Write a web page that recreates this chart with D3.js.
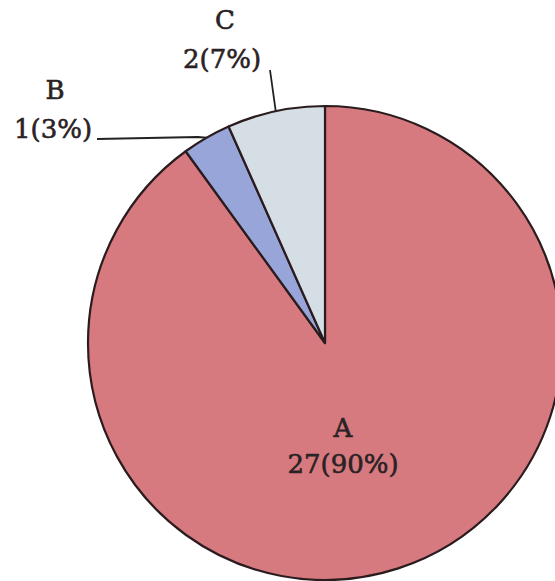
<!DOCTYPE html>
<html><head><meta charset="utf-8">
<script src="https://cdn.jsdelivr.net/npm/d3@7"></script>
<style>html,body{margin:0;padding:0;background:#fff;overflow:hidden}</style>
</head><body>
<svg id="chart" width="555" height="581"></svg>
<script>
const categories = ["A", "B", "C"];
const values = [27, 1, 2];
const percents = ["90%", "3%", "7%"];
const colors = ["#d77a80", "#97a5d8", "#d6dee5"];

const svg = d3.select("#chart");
const cx = 325, cy = 343, R = 237;
const g = svg.append("g").attr("transform", `translate(${cx},${cy})`);

const pie = d3.pie().sort(null).value(d => d.v);
const data = categories.map((c, i) => ({c, v: values[i], p: percents[i], col: colors[i]}));
const arcs = pie(data);
const arc = d3.arc().innerRadius(0).outerRadius(R);

g.selectAll("path").data(arcs).join("path")
  .attr("d", arc)
  .attr("fill", d => d.data.col)
  .attr("stroke", "#2a1c1e")
  .attr("stroke-width", 2.2)
  .attr("stroke-linejoin", "round");

const font = "'DejaVu Serif', 'Liberation Serif', serif";
const lbl = (x, y, t) => svg.append("text").attr("x", x).attr("y", y)
  .attr("text-anchor", "middle").attr("font-family", font)
  .attr("font-size", 26).attr("fill", "#2a2224")
  .attr("stroke", "#2a2224").attr("stroke-width", 0.6).text(t);

// A label inside
const a0 = arcs[0];
lbl(343, 437, a0.data.c);
lbl(343, 473, `${a0.data.v}(${a0.data.p})`);

// B label with leader
const b = arcs[1];
const bm = (b.startAngle + b.endAngle) / 2;
const bx = cx + R * Math.sin(bm), by = cy - R * Math.cos(bm);
lbl(55, 99, b.data.c);
lbl(53, 138, `${b.data.v}(${b.data.p})`);
svg.append("polyline").attr("fill", "none").attr("stroke", "#222").attr("stroke-width", 1.8)
  .attr("points", `97,139 198,137 ${bx},${by}`);

// C label with leader
const c = arcs[2];
const cm = (c.startAngle + c.endAngle) / 2;
const ccx = cx + R * Math.sin(cm), ccy = cy - R * Math.cos(cm);
lbl(225, 29, c.data.c);
lbl(222, 68, `${c.data.v}(${c.data.p})`);
svg.append("line").attr("stroke", "#222").attr("stroke-width", 1.8)
  .attr("x1", 270).attr("y1", 70).attr("x2", ccx).attr("y2", ccy);
</script>
</body></html>
